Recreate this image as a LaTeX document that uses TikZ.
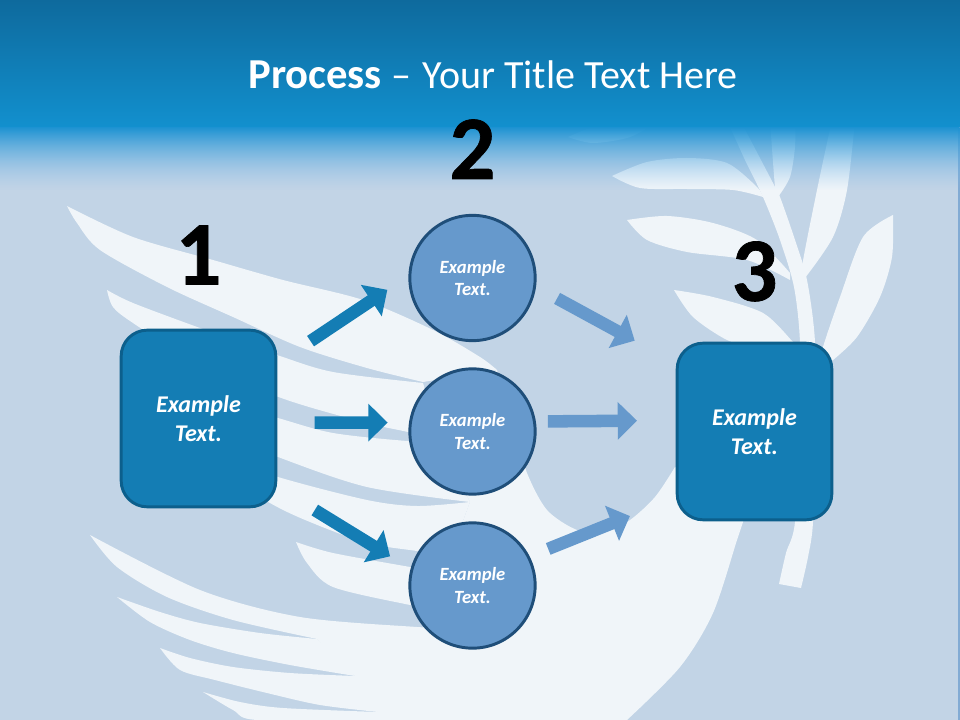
\documentclass[tikz,border=0pt]{standalone}
\usepackage{fontspec}
\setmainfont{Carlito}
\newfontfamily\numfont[FakeBold=0.8]{Carlito Bold}
\usepackage{tikz}
\usetikzlibrary{positioning}
\usetikzlibrary{arrows.meta,fadings}
\definecolor{bgblue}{HTML}{C2D4E6}
\definecolor{dovewhite}{HTML}{F0F5F9}
\definecolor{boxblue}{HTML}{147DB4}
\definecolor{boxline}{HTML}{0C5F8C}
\definecolor{circblue}{HTML}{6699CC}
\definecolor{circline}{HTML}{1F4E79}
\definecolor{bandtop}{HTML}{0E6A9D}
\definecolor{bandlow}{HTML}{1290CE}
\definecolor{fadetop}{HTML}{1C92D2}
\definecolor{fademid}{HTML}{4AA4F0}
\definecolor{fadelow}{HTML}{8FC0EC}
\newcommand{\dovepart}[2]{\fill[dovewhite] plot[smooth] coordinates {#1} -- plot[smooth] coordinates {#2} -- cycle;}
\begin{document}
\begin{tikzpicture}[x=0.75pt,y=-0.75pt,
bx/.style={draw=boxline,fill=boxblue,line width=2.2pt,rounded corners=19.5pt,minimum width=116pt,minimum height=132.5pt,inner sep=0pt,text=white,align=center,font=\fontsize{18}{21.6}\selectfont\bfseries\itshape},
circ/.style={circle,draw=circline,fill=circblue,line width=2.2pt,minimum size=94pt,inner sep=0pt,text=white,align=center,font=\fontsize{14}{16.8}\selectfont\bfseries\itshape},
num/.style={inner sep=0pt,font=\fontsize{68}{68}\numfont},
darr/.style={line width=9.4pt,draw=boxblue,-{Triangle[length=14.5pt,width=27.5pt]}},
larr/.style={line width=9.4pt,draw=circblue,-{Triangle[length=14.5pt,width=27.5pt]}}]
\useasboundingbox (0,0) rectangle (960,720);
\fill[bgblue] (0,0) rectangle (960,720);
\fill[circblue!70!bgblue] (958,127) rectangle (960,720);

\dovepart{(67,206)(133,237)(213,260)(283,280)(363,300)(433,330)(480,357)(497,370)}{(423,382)(367,368)(300,347)(233,317)(167,287)(100,250)(77,223)(67,206)}
\dovepart{(107,290)(133,303)(200,328)(277,355)(333,372)(423,383)}{(440,440)(408,432)(367,423)(287,400)(200,365)(133,323)(113,307)(107,290)}
\dovepart{(200,395)(278,418)(333,433)(408,441)(440,440)}{(470,502)(367,487)(278,457)(200,425)}
\dovepart{(200,450)(278,477)(367,500)(417,506)(470,502)}{(450,556)(417,551)(367,543)(310,522)(270,503)(200,460)}
\dovepart{(296,542)(333,553)(410,567)(450,574)}{(450,612)(410,605)(333,587)(307,563)(296,542)}
\dovepart{(90,535)(200,590)(300,617)(417,627)(450,628)}{(317,639)(233,620)(167,597)(117,567)(90,535)}
\dovepart{(117,597)(160,612)(200,623)(260,633)(317,639)}{(355,676)(290,665)(233,653)(190,640)(150,622)(117,597)}
\dovepart{(160,648)(190,658)(233,667)(290,673)(355,676)}{(378,712)(320,705)(267,693)(215,680)(180,670)(160,648)}
\dovepart{(203,692)(240,702)(283,708)(378,712)}{(378,720)(257,720)(233,710)(203,692)}
\fill[dovewhite] plot[smooth] coordinates {(497,370)(515,430)(527,473)(547,510)(577,530)(605,532)(630,520)(655,497)(675,467)} -- plot[smooth] coordinates {(748,505)(743,522)(737,540)(713,613)(680,667)(627,720)} -- (370,720) -- (378,712) -- (362,706) -- (355,676) -- (338,663) -- (317,639) -- (325,628) -- (450,628) -- (450,556) -- (470,502) -- (440,440) -- (440,385) -- cycle;

\dovepart{(779,584)(786,553)(795,522)(800,420)(800,342)(794,287)(780,240)(763,197)(745,160)(727,120)}{(740,120)(773,183)(780,197)(795,240)(807,280)(815,342)(815,430)(813,522)(808,557)(801,588)}
\dovepart{(612,176)(647,162)(687,158)(727,163)(757,187)(763,197)}{(763,197)(733,190)(687,189)(640,188)(612,176)}
\dovepart{(627,220)(667,216)(713,223)(757,240)(790,273)}{(790,280)(747,260)(687,252)(647,240)(627,220)}
\dovepart{(674,290)(713,297)(763,313)(793,342)(800,350)}{(760,350)(727,340)(693,317)(674,290)}
\dovepart{(893,215)(863,237)(840,297)(823,347)(820,365)}{(833,360)(857,337)(880,297)(892,257)(893,215)}
\dovepart{(832,120)(817,190)(802,267)(805,278)}{(805,278)(833,237)(847,190)(855,120)}
\dovepart{(770,120)(775,187)(778,197)}{(778,197)(790,177)(795,147)(795,120)}
\dovepart{(568,137)(590,128)(620,120)}{(660,120)(630,137)(593,143)(568,137)}

\shade[top color=fadetop,middle color=fademid,bottom color=fadelow,path fading=south] (0,127) rectangle (960,190);
\shade[top color=bandtop,bottom color=bandlow] (0,0) rectangle (960,127);

\node[text=white,inner sep=0pt,font=\fontsize{30}{36}\selectfont] (title) at (493,75) {{\fontsize{32}{36}\selectfont\bfseries Process} --\hspace{2pt} Your Title Text Here};

\node[bx] (bx1) at (198.5,418.5) {Example\\Text.};
\node[bx] (bx3) at (754.5,431.5) {Example\\Text.};
\node[circ] (c1) at (472.5,278) {Example\\Text.};
\node[circ] (c2) at (472.5,431.5) {Example\\Text.};
\node[circ] (c3) at (472.5,585.5) {Example\\Text.};
\node[num,above=33pt of bx1] (n1) {1};
\node[num,above=26pt of c1] (n2) {2};
\node[num,above=30pt of bx3] (n3) {3};

\draw[darr,shorten <=30pt,shorten >=19pt] (bx1.35) -- (c1.178);
\draw[darr,shorten <=28pt,shorten >=16pt] (bx1.-3) -- (c2.172);
\draw[darr,shorten <=33pt,shorten >=18pt] (bx1.-41) -- (c3.165);
\draw[larr,shorten <=18pt,shorten >=35pt] (c1.-8) -- (bx3.139);
\draw[larr,shorten <=9pt,shorten >=29pt] (c2.9) -- (bx3.172.7);
\draw[larr,shorten <=15pt,shorten >=37pt] (c3.27) -- (bx3.220);
\end{tikzpicture}
\end{document}
